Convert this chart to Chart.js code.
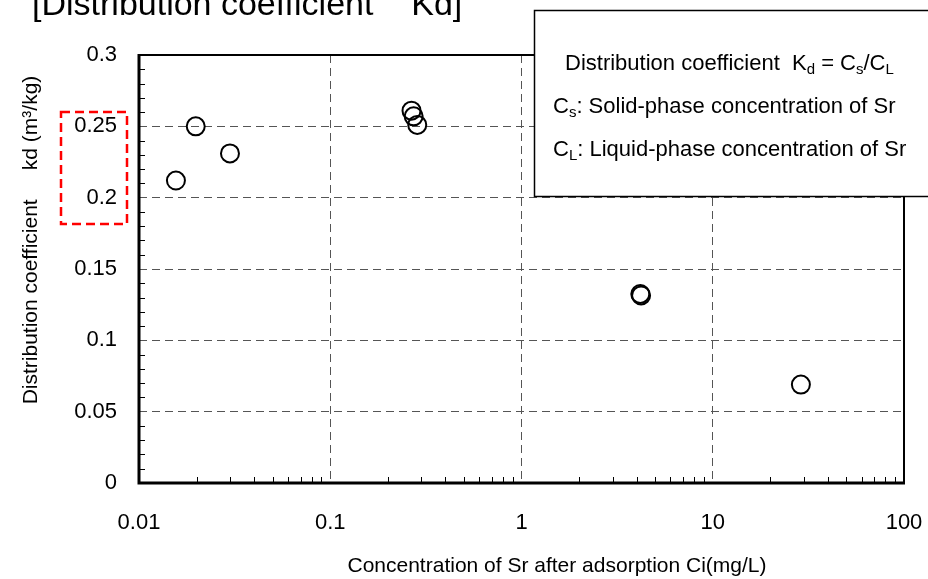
<!DOCTYPE html>
<html>
<head>
<meta charset="utf-8">
<script src="https://cdn.jsdelivr.net/npm/chart.js@4"></script>
<style>
  html, body { margin: 0; padding: 0; background: #fff; }
  #wrap { width: 928px; height: 579px; }
</style>
</head>
<body>
<div id="wrap"><canvas id="kdChart" width="928" height="579"></canvas></div>
<script>
// concentration after adsorption Ci (mg/L)
const concSr = [0.0156, 0.0198, 0.0299, 0.266, 0.273, 0.285, 4.18, 4.22, 28.9];
// distribution coefficient kd (m3/kg)
const kdValues = [0.212, 0.250, 0.231, 0.261, 0.257, 0.251, 0.1325, 0.1315, 0.069];

const xTicks = [0.01, 0.1, 1, 10, 100];
const yTicks = [0, 0.05, 0.1, 0.15, 0.2, 0.25, 0.3];
const xMinor = [0.02, 0.03, 0.04, 0.05, 0.06, 0.07, 0.08, 0.09,
                0.2, 0.3, 0.4, 0.5, 0.6, 0.7, 0.8, 0.9,
                2, 3, 4, 5, 6, 7, 8, 9,
                20, 30, 40, 50, 60, 70, 80, 90];
const yMinor = [0.01, 0.02, 0.03, 0.04, 0.06, 0.07, 0.08, 0.09, 0.11, 0.12, 0.13, 0.14,
                0.16, 0.17, 0.18, 0.19, 0.21, 0.22, 0.23, 0.24, 0.26, 0.27, 0.28, 0.29];

const FONT = '"Liberation Sans", Arial, sans-serif';

const points = concSr.map((x, i) => ({ x: x, y: kdValues[i] }));

function richText(ctx, x, y, parts, size) {
    // parts: [text, isSub]
    let cx = x;
    parts.forEach(p => {
        if (p[1]) {
            ctx.font = Math.round(size * 0.66) + 'px ' + FONT;
            ctx.fillText(p[0], cx, y + size * 0.28);
        } else {
            ctx.font = size + 'px ' + FONT;
            ctx.fillText(p[0], cx, y);
        }
        cx += ctx.measureText(p[0]).width;
    });
}

const decorations = {
    id: 'decorations',
    afterDatasetsDraw(chart) {
        const ctx = chart.ctx;
        const a = chart.chartArea;
        const xs = chart.scales.x, ys = chart.scales.y;
        ctx.save();

        // minor ticks, pointing inward
        ctx.strokeStyle = '#000';
        ctx.lineWidth = 1;
        ctx.beginPath();
        xMinor.forEach(v => {
            const px = Math.round(xs.getPixelForValue(v)) + 0.5;
            ctx.moveTo(px, a.bottom);
            ctx.lineTo(px, a.bottom - 6);
        });
        yMinor.forEach(v => {
            const py = Math.round(ys.getPixelForValue(v)) + 0.5;
            ctx.moveTo(a.left, py);
            ctx.lineTo(a.left + 6, py);
        });
        ctx.stroke();

        // plot frame
        ctx.lineWidth = 2;
        ctx.strokeRect(a.left, a.top, a.right - a.left, a.bottom - a.top);
        ctx.lineWidth = 3;
        ctx.beginPath();
        ctx.moveTo(a.left, a.top - 1);
        ctx.lineTo(a.left, a.bottom);
        ctx.lineTo(a.right + 1, a.bottom);
        ctx.stroke();

        // legend box
        ctx.fillStyle = '#fff';
        ctx.fillRect(534, 10, 400, 186);
        ctx.strokeStyle = '#000';
        ctx.lineWidth = 1.5;
        ctx.strokeRect(534.5, 10.5, 400, 186);
        ctx.fillStyle = '#000';
        ctx.textBaseline = 'middle';
        ctx.textAlign = 'left';
        richText(ctx, 565, 64, [['Distribution coefficient  K', 0], ['d', 1], [' = C', 0], ['s', 1], ['/C', 0], ['L', 1]], 22);
        richText(ctx, 553, 107, [['C', 0], ['s', 1], [': Solid-phase concentration of Sr', 0]], 22);
        richText(ctx, 553, 150, [['C', 0], ['L', 1], [': Liquid-phase concentration of Sr', 0]], 22);

        // red dashed highlight
        ctx.strokeStyle = '#ff0000';
        ctx.lineWidth = 2.5;
        ctx.setLineDash([9, 5]);
        ctx.strokeRect(61, 112, 66, 112);
        ctx.setLineDash([]);

        // title
        ctx.fillStyle = '#000';
        ctx.textBaseline = 'alphabetic';
        ctx.font = '34px ' + FONT;
        ctx.fillText('[Distribution coefficient    Kd]', 32, 15);

        // axis titles
        ctx.textAlign = 'center';
        ctx.textBaseline = 'middle';
        ctx.font = '21px ' + FONT;
        ctx.fillText('Concentration of Sr after adsorption Ci(mg/L)', 557, 566);

        ctx.save();
        ctx.translate(31, 240);
        ctx.rotate(-Math.PI / 2);
        ctx.font = '21px ' + FONT;
        ctx.fillText('Distribution coefficient     kd (m\u00B3/kg)', 0, 0);
        ctx.restore();

        ctx.restore();
    }
};

new Chart(document.getElementById('kdChart').getContext('2d'), {
    type: 'scatter',
    data: {
        datasets: [{
            label: 'Kd',
            data: points,
            pointRadius: 9,
            pointHoverRadius: 9,
            pointBorderWidth: 2,
            borderColor: '#000',
            backgroundColor: 'rgba(0,0,0,0)',
            pointBackgroundColor: 'rgba(0,0,0,0)',
            showLine: false,
            clip: false
        }]
    },
    options: {
        responsive: false,
        animation: false,
        layout: { padding: { top: 55, right: 24, left: 0, bottom: 0 } },
        plugins: {
            legend: { display: false },
            tooltip: { enabled: false }
        },
        scales: {
            x: {
                type: 'logarithmic',
                min: 0.01,
                max: 100,
                afterBuildTicks: scale => { scale.ticks = xTicks.map(v => ({ value: v })); },
                afterFit: scale => {
                    scale.height = 96;
                    scale.paddingLeft = 0;
                    scale.paddingRight = 0;
                },
                ticks: {
                    color: '#000',
                    padding: 27,
                    maxRotation: 0,
                    autoSkip: false,
                    font: { family: FONT, size: 22 },
                    callback: v => String(v)
                },
                grid: {
                    drawTicks: false,
                    color: c => (c.tick && (c.tick.value === 0.01 || c.tick.value === 100)) ? 'rgba(0,0,0,0)' : '#555',
                    lineWidth: 1
                },
                border: { display: false, dash: [8, 5] }
            },
            y: {
                type: 'linear',
                min: 0,
                max: 0.3,
                afterBuildTicks: scale => { scale.ticks = yTicks.map(v => ({ value: v })); },
                afterFit: scale => {
                    scale.width = 139;
                    scale.paddingTop = 0;
                    scale.paddingBottom = 0;
                },
                ticks: {
                    color: '#000',
                    padding: 22,
                    font: { family: FONT, size: 22 },
                    callback: v => String(+v.toFixed(2))
                },
                grid: {
                    drawTicks: false,
                    color: c => (c.tick && (c.tick.value === 0 || c.tick.value === 0.3)) ? 'rgba(0,0,0,0)' : '#555',
                    lineWidth: 1
                },
                border: { display: false, dash: [8, 5] }
            }
        }
    },
    plugins: [decorations]
});
</script>
</body>
</html>
